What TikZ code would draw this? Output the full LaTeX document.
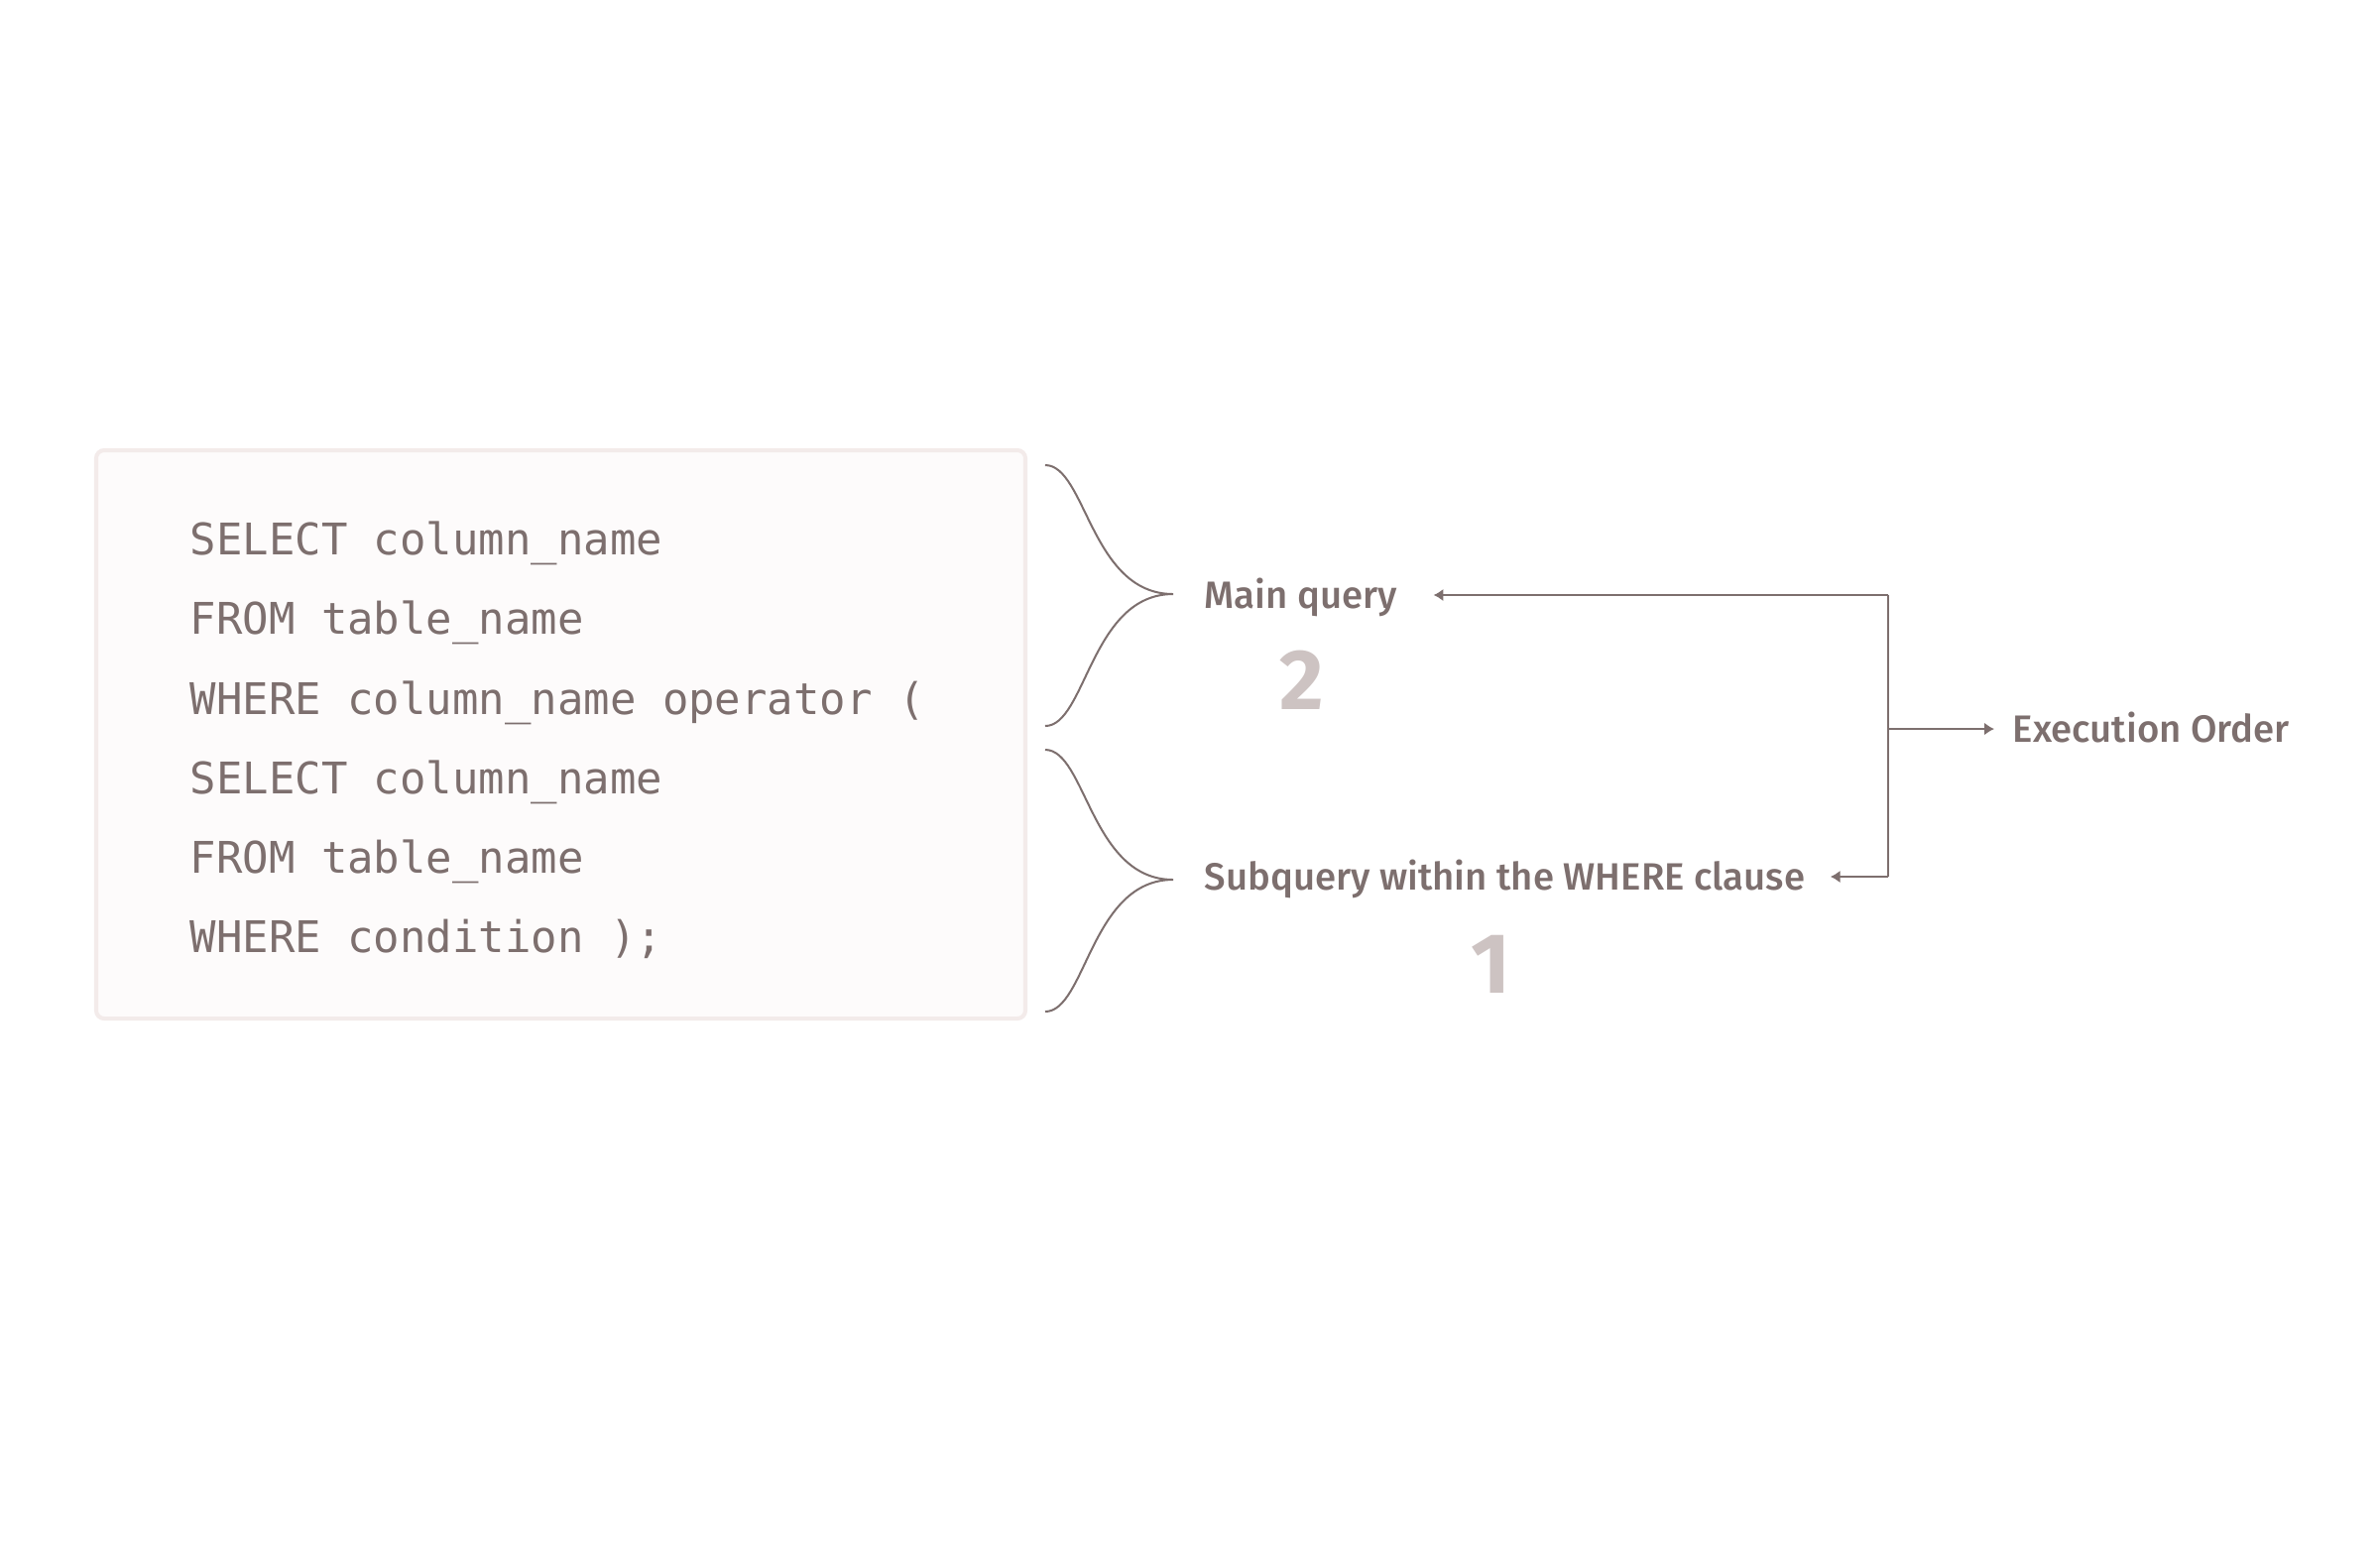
\documentclass[tikz,border=0pt]{standalone}
\usepackage{fontspec}
\setmonofont{DejaVu Sans Mono}
\newfontfamily\labelfont{Fira Sans}[UprightFont={* Medium},BoldFont={* Bold}]
\usetikzlibrary{arrows.meta}
\definecolor{inkgrey}{HTML}{7D6F6E}
\definecolor{stepgrey}{HTML}{CDC3C2}
\definecolor{panelfill}{HTML}{FDFBFB}
\definecolor{panelline}{HTML}{F3EBEA}
\begin{document}
\begin{tikzpicture}[x=0.01cm, y=-0.01cm,
  code/.style={anchor=base west, inner sep=0pt, text=inkgrey, font=\ttfamily\fontsize{12.5pt}{15pt}\selectfont},
  tag/.style={anchor=west, inner sep=0pt, text height=7.4pt, text depth=0pt, text=inkgrey, font=\labelfont\fontsize{10.9pt}{13pt}\selectfont},
  stepnum/.style={inner sep=0pt, text=stepgrey, font=\labelfont\bfseries\fontsize{24.5pt}{28pt}\selectfont},
  flow/.style={draw=inkgrey, line width=0.57pt, -{Latex[length=2.8pt,width=3.6pt]}},
  brace/.style={draw=inkgrey, line width=0.57pt}]
\fill [white] (0, 0) rectangle (2400, 1568);

\draw [panelline, fill=panelfill, line width=1.15pt, rounded corners=2.3pt] (97, 454) rectangle (1034, 1027);

\node (sel1) at (191, 559) [code] {SELECT column\_name};
\node (frm1) at (191, 639) [code] {FROM table\_name};
\node (whr1) at (191, 720) [code] {WHERE column\_name operator (};
\node (sel2) at (191, 800) [code] {SELECT column\_name};
\node (frm2) at (191, 880) [code] {FROM table\_name};
\node (whr2) at (191, 960) [code] {WHERE condition );};

\draw [brace] (1054, 469) .. controls (1095, 469) and (1100, 599) .. (1183, 599)
  .. controls (1100, 599) and (1095, 732) .. (1054, 732);
\draw [brace] (1054, 756) .. controls (1095, 756) and (1100, 887) .. (1183, 887)
  .. controls (1100, 887) and (1095, 1020) .. (1054, 1020);

\node (mainq) at (1214, 600) [tag] {Main query};
\node (subq) at (1214, 884) [tag] {Subquery within the WHERE clause};
\node (order) at (2029, 735) [tag] {Execution Order};
\node (two) at (1313, 686) [stepnum] {2};
\node (one) at (1503, 972) [stepnum] {1};

\coordinate (jtop) at (1904, 600);
\coordinate (jbot) at (1904, 884);
\coordinate (jmid) at (1904, 735);
\draw [draw=inkgrey, line width=0.57pt] (jtop) -- (jbot);
\draw [flow, shorten >=0.36cm] (jtop) -- (mainq);
\draw [flow, shorten >=0.25cm] (jbot) -- (subq);
\draw [flow, shorten >=0.18cm] (jmid) -- (order);
\end{tikzpicture}
\end{document}
